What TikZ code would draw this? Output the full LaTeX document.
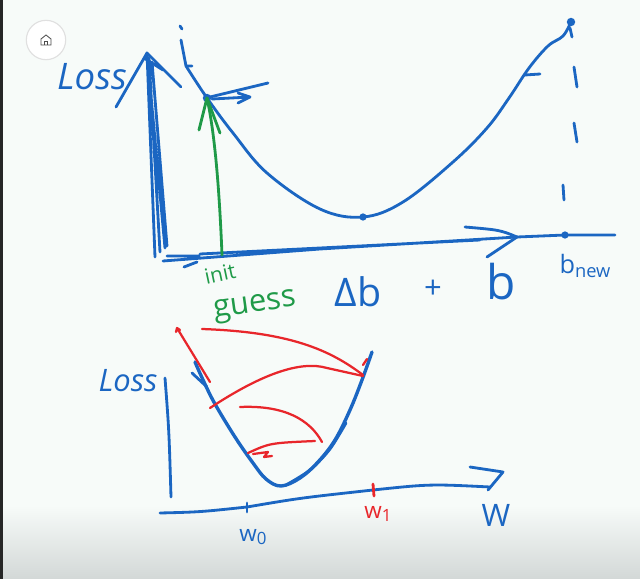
\documentclass[tikz,border=0pt]{standalone}
\usepackage{fontspec}
\setmainfont{Open Sans}
\definecolor{inkblue}{HTML}{1B66C2}
\definecolor{inkgreen}{HTML}{1F9A48}
\definecolor{inkred}{HTML}{E8262B}
\definecolor{board}{HTML}{F7FBF9}
\definecolor{boardgray}{HTML}{D3D8D7}

\begin{document}
\begin{tikzpicture}[x=0.025cm, y=-0.025cm,
  pen/.style={line width=2pt, line cap=round, line join=round},
  bluepen/.style={pen, draw=inkblue},
  greenpen/.style={pen, draw=inkgreen},
  redpen/.style={pen, draw=inkred, line width=1.6pt},
  scrawl/.style={inner sep=0pt}]
  % board
  \fill[board] (0,0) rectangle (640,579);
  \shade[top color=board, bottom color=boardgray] (0,505) rectangle (640,579);
  \fill[black!85] (0,0) rectangle (3,579);
  \useasboundingbox (0,0) rectangle (640,579);
  % home button
  \node[circle, draw=black!12, fill=white, minimum size=28pt, line width=0.8pt] (home) at (46,40) {};
  \draw[black!70, line width=0.6pt] (41,45) -- (41,39) -- (46,35) -- (51,39) -- (51,45) -- cycle (44.5,45) -- (44.5,41.5) -- (47.5,41.5) -- (47.5,45);

  % ---- top plot ----
  \coordinate (yTop) at (147,53);
  \coordinate (guess) at (207,98);
  \coordinate (minB) at (363,217);
  \coordinate (peak) at (571,22);
  \coordinate (xHead) at (517,237);
  \coordinate (bNew) at (565,235);
  % axes
  \draw[bluepen] (yTop) -- (155,257) (yTop) -- (165,248) (149,58) -- (160,252) (152,62) -- (167,246);
  \draw[bluepen] (116,107) -- (yTop) -- (181,87) (144,58) -- (163,70);
  \draw[bluepen] (163,261) -- (320,249) -- (xHead) (167,256) -- (199,256) (200,254) -- (480,240) (184,267) -- (197,262);
  \draw[bluepen] (465,227) .. controls (500,230) .. (xHead) -- (487,257);
  \draw[bluepen] (xHead) -- (bNew) -- (615,235);
  % loss curve
  \draw[bluepen] (180,26) -- (182,29) (181,40) -- (186,66) -- (192,66);
  \draw[bluepen] plot[smooth, tension=0.6] coordinates {(186,66) (guess) (233,133) (267,173) (320,209) (minB) (403,202) (453,162) (487,128) (509,98) (529,68) (548,46) (563,36) (peak)};
  \draw[bluepen] (525,75) -- (540,74);
  \fill[inkblue] (guess) circle (3pt) (minB) circle (2.6pt) (peak) circle (3pt) (bNew) circle (2.6pt);
  % dashed drop from the new point
  \draw[bluepen] (570,28) -- (572,37) (574,67) -- (577,87) (574,123) -- (577,142) (563,185) -- (564,200);
  % gradient step arrow
  \draw[bluepen] (210,97) -- (268,83);
  \draw[bluepen] (212,99) -- (250,97) (238,93) -- (250,97) -- (238,103);
  % initial guess
  \draw[greenpen] (222,255) .. controls (219,180) and (214,130) .. (guess);
  \draw[greenpen] (199,130) -- (guess) -- (220,133);
  % labels
  \node[scrawl, text=inkgreen, font=\fontsize{15}{15}\selectfont, rotate=12] (init) at (220,274) {init};
  \node[scrawl, text=inkgreen, font=\fontsize{22}{22}\selectfont, rotate=8] (guessLbl) at (255,307) {guess};
  \node[scrawl, text=inkblue, font=\itshape\fontsize{26}{26}\selectfont] (lossTop) at (92,77) {Loss};
  \node[scrawl, text=inkblue, font=\fontsize{28}{28}\selectfont] (deltaB) at (358,292) {Δb};
  \node[scrawl, text=inkblue, font=\fontsize{22}{22}\selectfont] (plus) at (433,289) {+};
  \node[scrawl, text=inkblue, font=\fontsize{34}{34}\selectfont] (bOld) at (501,282) {b};
  \node[scrawl, text=inkblue, font=\fontsize{18}{18}\selectfont] (bNewLbl) at (585,266) {b\raisebox{-0.35ex}{\fontsize{13}{13}\selectfont new}};

  % ---- bottom plot ----
  \coordinate (w0) at (247,507);
  \coordinate (w1) at (373,490);
  \coordinate (wHead) at (503,472);
  \draw[bluepen] (165,378) .. controls (169,430) .. (171,497);
  \draw[bluepen] (160,513) .. controls (200,512) .. (w0) .. controls (300,498) .. (w1) .. controls (430,484) .. (490,487);
  \draw[bluepen] (470,467) -- (wHead) -- (488,490);
  \draw[bluepen] (247,503) -- (247,512);
  \draw[pen, draw=inkred] (373,484) -- (374,496);
  % bowl
  \draw[bluepen, line width=2.4pt] plot[smooth, tension=0.6] coordinates {(195,362) (204,382) (215,404) (235,437) (253,463) (266,479) (281,486) (300,478) (318,462) (335,440) (350,410) (362,380) (372,352)};
  \draw[bluepen] plot[smooth] coordinates {(286,485) (310,470) (330,449) (346,423)};
  \draw[bluepen] (192,373) -- (207,387);
  % red steps
  \draw[redpen] (177,328) -- (210,382) (176,332) -- (177,328) -- (180,330);
  \draw[redpen] (202,329) .. controls (290,332) and (330,350) .. (363,375);
  \draw[redpen] (210,408) .. controls (260,375) and (300,360) .. (327,368) -- (363,376);
  \draw[redpen] (240,407) .. controls (285,405) and (310,420) .. (322,442);
  \draw[redpen] (248,453) .. controls (270,443) .. (315,441);
  \draw[redpen] (253,454) -- (268,452) -- (264,457) -- (272,456);
  \draw[redpen] (363,365) -- (367,359);
  % labels
  \node[scrawl, text=inkblue, font=\itshape\fontsize{22}{22}\selectfont] (lossBot) at (128,381) {Loss};
  \node[scrawl, text=inkblue, font=\fontsize{16}{16}\selectfont] (w0Lbl) at (253,537) {w\raisebox{-0.3ex}{\fontsize{12}{12}\selectfont 0}};
  \node[scrawl, text=inkred, font=\fontsize{16}{16}\selectfont] (w1Lbl) at (378,514) {w\raisebox{-0.3ex}{\fontsize{12}{12}\selectfont 1}};
  \node[scrawl, text=inkblue, font=\fontsize{22}{22}\selectfont] (wLbl) at (496,515) {W};
\end{tikzpicture}
\end{document}
